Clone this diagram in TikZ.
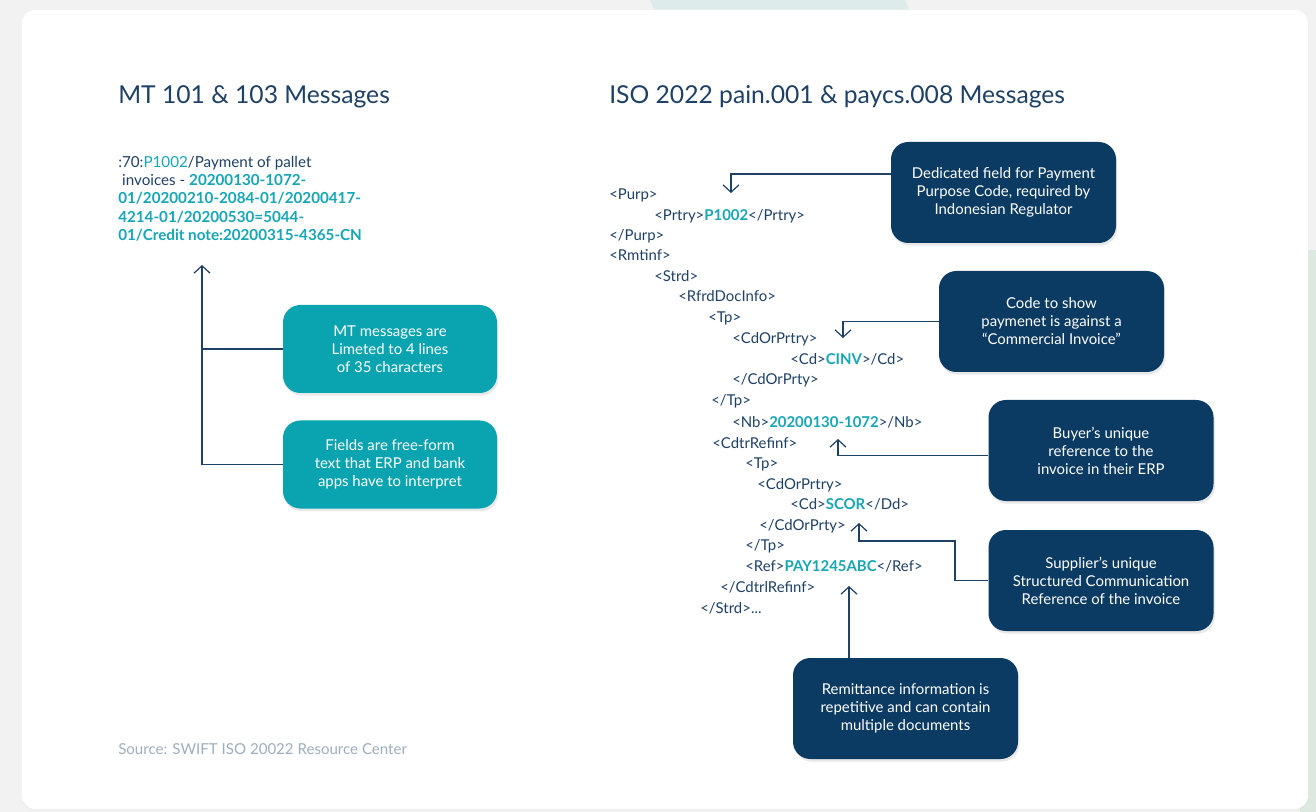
\documentclass[tikz,border=0pt]{standalone}
\usepackage{fontspec}
\setmainfont{Lato}
\usepackage{xcolor}
\usepackage{tikz}
\usetikzlibrary{arrows.meta,positioning,shadows}

\definecolor{inkblue}{HTML}{1E4165}
\definecolor{codeteal}{HTML}{16A6B6}
\definecolor{calloutnavy}{HTML}{0B3A63}
\definecolor{calloutteal}{HTML}{0AA4B1}
\definecolor{sourcegray}{HTML}{9EAEBD}
\definecolor{pagegray}{HTML}{F2F2F2}
\definecolor{mintstrip}{HTML}{DCE8E0}
\definecolor{tealtint}{HTML}{DDECEA}

\newcommand{\hl}[1]{\textcolor{codeteal}{\textbf{#1}}}

\begin{document}
\begin{tikzpicture}[x=0.75pt, y=-0.75pt,
title/.style={anchor=west, inner sep=0pt, text=inkblue, font=\fontsize{18.5}{22}\selectfont},
xml/.style={anchor=base west, inner sep=0pt, text=inkblue, font=\fontsize{11.2}{13}\selectfont},
callout/.style={rounded corners=13pt, align=center, text=white, font=\fontsize{11.2}{13.5}\selectfont,
  drop shadow={opacity=0.18, shadow xshift=1pt, shadow yshift=-2pt}},
tealbox/.style={callout, fill=calloutteal, minimum width=160.5pt, minimum height=66pt},
navybox/.style={callout, fill=calloutnavy, minimum width=168.75pt, minimum height=75.75pt},
arrow/.style={-{Straight Barb[length=5.5pt, width=12pt]}, draw=inkblue, line width=0.9pt},
link/.style={draw=inkblue, line width=0.9pt}
]
\useasboundingbox (0,0) rectangle (1316,812);

% Page background and card
\fill[pagegray] (0,0) rectangle (1316,812);
\fill[mintstrip] (1300,250) rectangle (1316,812);
\fill[tealtint] (650,0) -- (905,0) -- (910,12) -- (655,12) -- cycle;
\fill[white, rounded corners=10pt, drop shadow={opacity=0.06, shadow xshift=0pt, shadow yshift=-1pt}]
  (22,10) rectangle (1308,809);

% Titles
\node[title] (mttitle) at (118,97) {MT 101 \& 103 Messages};
\node[title] (isotitle) at (609,97) {ISO 2022 pain.001 \& paycs.008 Messages};

% MT field 70 (left side)
\node[anchor=north west, inner sep=0pt, align=left, text=inkblue, font=\fontsize{11.4}{13.7}\selectfont]
  (field70) at (118,156) {:70:\textcolor{codeteal}{P1002}/Payment of pallet\\
  \ invoices - \hl{20200130-1072-}\\
  \hl{01/20200210-2084-01/20200417-}\\
  \hl{4214-01/20200530=5044-}\\
  \hl{01/Credit note:20200315-4365-CN}};

% MT callouts
\node[tealbox] (limit) at (390,349) {MT messages are\\Limeted to 4 lines\\of 35 characters};
\node[tealbox] (fields) at (390,464.5) {Fields are free-form\\text that ERP and bank\\apps have to interpret};

% ISO 20022 XML lines
\node[xml] (purp) at (609,200) {<Purp>};
\node[xml] (prtry) at (654,221) {<Prtry>\hl{P1002}</Prtry>};
\node[xml] (purpend) at (609,241) {</Purp>};
\node[xml] (rmtinf) at (609,261) {<Rmtinf>};
\node[xml] (strd) at (654,282) {<Strd>};
\node[xml] (rfrd) at (678,302) {<RfrdDocInfo>};
\node[xml] (tpa) at (708,323) {<Tp>};
\node[xml] (cdora) at (732,344) {<CdOrPrtry>};
\node[xml] (cdcinv) at (790,365) {<Cd>\hl{CINV}>/Cd>};
\node[xml] (cdoraend) at (732,385) {</CdOrPrty>};
\node[xml] (tpaend) at (711,406) {</Tp>};
\node[xml] (nb) at (732,427) {<Nb>\hl{20200130-1072}>/Nb>};
\node[xml] (cdtr) at (712,448) {<CdtrRefinf>};
\node[xml] (tpb) at (745,468) {<Tp>};
\node[xml] (cdorb) at (757,489) {<CdOrPrtry>};
\node[xml] (cdscor) at (790,509) {<Cd>\hl{SCOR}</Dd>};
\node[xml] (cdorbend) at (759,530) {</CdOrPrty>};
\node[xml] (tpbend) at (745,550) {</Tp>};
\node[xml] (ref) at (745,571) {<Ref>\hl{PAY1245ABC}</Ref>};
\node[xml] (cdtrend) at (720,592) {</CdtrlRefinf>};
\node[xml] (strdend) at (700,613) {</Strd>...};

% ISO callouts
\node[navybox] (purpose) at (1003.5,192.5) {Dedicated field for Payment\\Purpose Code, required by\\Indonesian Regulator};
\node[navybox] (code) at (1051.5,321.5) {Code to show\\paymenet is against a\\“Commercial Invoice”};
\node[navybox] (buyer) at (1101,450.5) {Buyer’s unique\\reference to the\\invoice in their ERP};
\node[navybox] (supplier) at (1101,580.5) {Supplier’s unique\\Structured Communication\\Reference of the invoice};
\node[navybox] (remit) at (905.5,708.5) {Remittance information is\\repetitive and can contain\\multiple documents};

% Arrow tips
\coordinate (mtTip) at (202,265);
\coordinate (purpTip) at (731,193);
\coordinate (codeTip) at (843,338);
\coordinate (buyerTip) at (838,439);
\coordinate (suppBend) at (955,541);
\coordinate (suppTip) at (859,523);
\coordinate (remitTip) at (849,586);

% Connectors
\draw[arrow] (fields.west) -| (mtTip);
\draw[link] (limit.west) -- (limit.west -| mtTip);
\draw[arrow] ([yshift=13.9pt]purpose.west) -| (purpTip);
\draw[arrow] (code.west) -| (codeTip);
\draw[arrow] ([yshift=-4pt]buyer.west) -| (buyerTip);
\draw[arrow] (supplier.west) -| (suppBend) -| (suppTip);
\draw[arrow] (remitTip |- remit.north) -- (remitTip);

% Source note
\node[anchor=west, inner sep=0pt, text=sourcegray, font=\fontsize{11.3}{13}\selectfont] (source) at (118,749)
  {Source: SWIFT ISO 20022 Resource Center};

\end{tikzpicture}
\end{document}
